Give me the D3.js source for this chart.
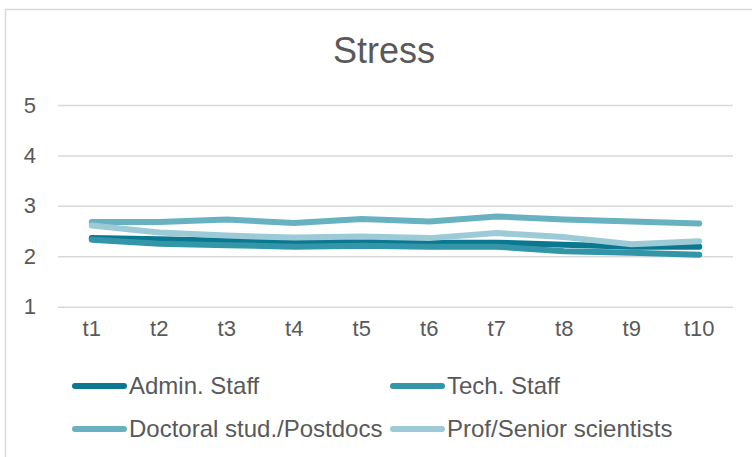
<!DOCTYPE html>
<html>
<head>
<meta charset="utf-8">
<script src="https://cdn.jsdelivr.net/npm/d3@7"></script>
<style>
  body { margin: 0; background: #fff; }
  text { font-family: "Liberation Sans", Arial, sans-serif; fill: #595959; }
</style>
</head>
<body>
<div id="chart"></div>
<script>
// data
var periods = ["t1", "t2", "t3", "t4", "t5", "t6", "t7", "t8", "t9", "t10"];
var yTicks = [1, 2, 3, 4, 5];
var seriesNames = ["Admin. Staff", "Tech. Staff", "Doctoral stud./Postdocs", "Prof/Senior scientists"];
var admin    = [2.36, 2.34, 2.31, 2.28, 2.29, 2.27, 2.27, 2.23, 2.19, 2.19];
var tech     = [2.33, 2.25, 2.22, 2.19, 2.21, 2.19, 2.19, 2.10, 2.07, 2.03];
var doctoral = [2.68, 2.68, 2.73, 2.66, 2.74, 2.69, 2.79, 2.73, 2.69, 2.65];
var prof     = [2.61, 2.47, 2.41, 2.37, 2.39, 2.36, 2.46, 2.38, 2.24, 2.30];
var colors = ["#0a7891", "#3395a8", "#68b1c1", "#9ccbd7"];

var W = 752, H = 457;
var margin = {top: 105, left: 58, right: 19, bottom: 150};

var svg = d3.select("#chart").append("svg")
    .attr("width", W)
    .attr("height", H);

// chart frame
svg.append("rect")
    .attr("x", 5.5).attr("y", 9.5)
    .attr("width", 770).attr("height", 470)
    .attr("fill", "none")
    .attr("stroke", "#d9d9d9")
    .attr("stroke-width", 1.5);

svg.append("text")
    .attr("x", 384).attr("y", 63)
    .attr("text-anchor", "middle")
    .style("font-size", "36px")
    .text("Stress");

var x = d3.scaleBand()
    .domain(periods)
    .range([margin.left, W - margin.right]);

var y = d3.scaleLinear()
    .domain([1, 5])
    .range([306.7, 105]);

// grid lines + y labels
var yAxis = svg.append("g")
    .attr("transform", "translate(" + margin.left + ",0)")
    .call(d3.axisLeft(y).tickValues(yTicks).tickSize(-(W - margin.left - margin.right)).tickPadding(22).tickFormat(d3.format("d")));
yAxis.select(".domain").remove();
yAxis.selectAll(".tick line").attr("stroke", "#d9d9d9").attr("stroke-width", 1.5);
yAxis.selectAll(".tick text").style("font-size", "22px").attr("fill", "#595959");

// x labels
var xAxis = svg.append("g")
    .attr("transform", "translate(0,306.7)")
    .call(d3.axisBottom(x).tickSize(0).tickPadding(14));
xAxis.select(".domain").remove();
xAxis.selectAll(".tick text").style("font-size", "22px").attr("fill", "#595959");

var allSeries = [admin, tech, doctoral, prof];

var line = d3.line()
    .x(function(d, i) { return x(periods[i]) + x.bandwidth() / 2; })
    .y(function(d) { return y(d); });

svg.append("g")
  .selectAll("path")
  .data(allSeries)
  .enter().append("path")
    .attr("d", line)
    .attr("fill", "none")
    .attr("stroke", function(d, i) { return colors[i]; })
    .attr("stroke-width", 6)
    .attr("stroke-linecap", "round")
    .attr("stroke-linejoin", "round");

// legend, 2 columns x 2 rows
var legendCols = [72, 390], legendRows = [386, 429];
var legend = svg.append("g")
  .selectAll("g")
  .data(seriesNames)
  .enter().append("g")
    .attr("transform", function(d, i) {
      return "translate(" + legendCols[i % 2] + "," + legendRows[Math.floor(i / 2)] + ")";
    });
legend.append("line")
    .attr("x1", 3).attr("x2", 52)
    .attr("stroke", function(d, i) { return colors[i]; })
    .attr("stroke-width", 6)
    .attr("stroke-linecap", "round");
legend.append("text")
    .attr("x", 57)
    .attr("dy", "0.35em")
    .style("font-size", "24px")
    .text(function(d) { return d; });
</script>
</body>
</html>
